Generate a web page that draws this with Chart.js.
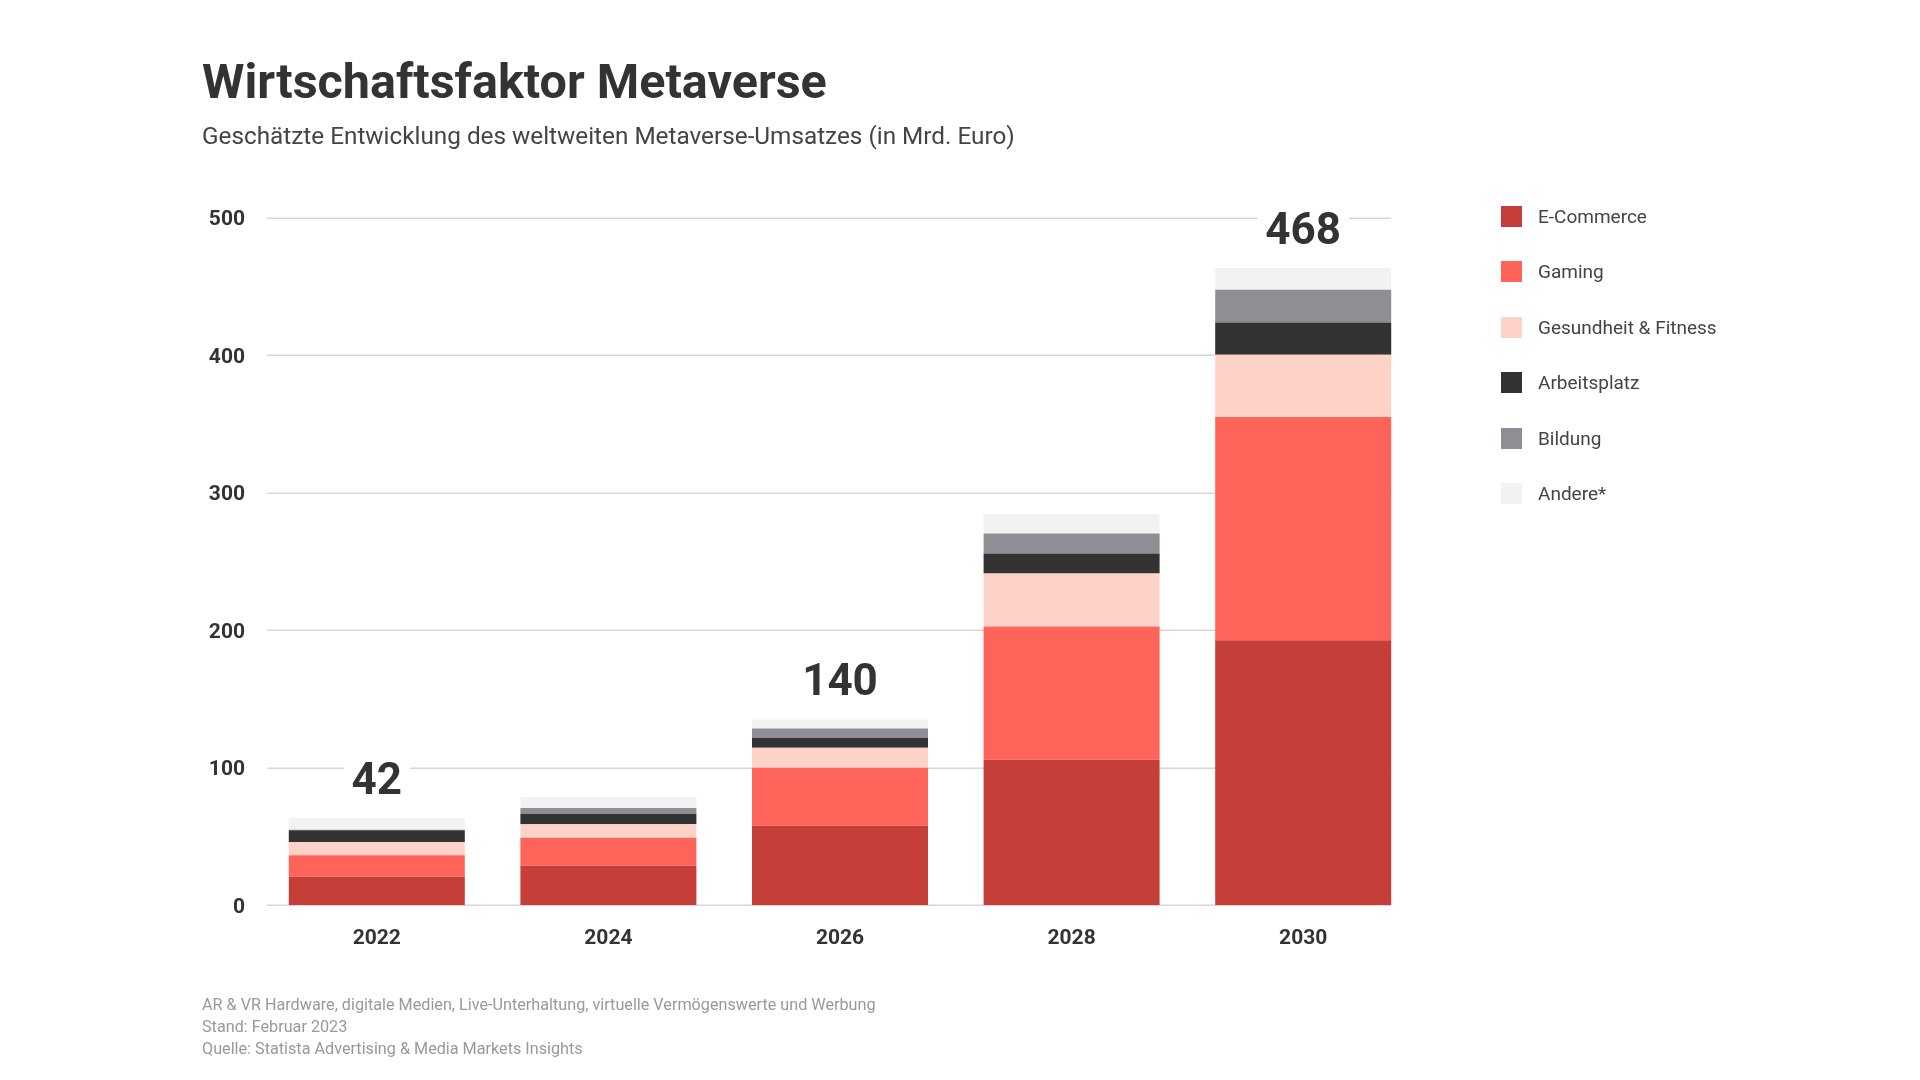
<!DOCTYPE html>
<html lang="de">
<head>
<meta charset="utf-8">
<title>Wirtschaftsfaktor Metaverse</title>
<script src="https://cdn.jsdelivr.net/npm/chart.js@4/dist/chart.umd.min.js"></script>
<style>
  html, body { margin: 0; padding: 0; background: #fff; }
  body { width: 1920px; height: 1080px; position: relative; overflow: hidden; font-family: Roboto, "Noto Sans", sans-serif; }
  #chart-wrap { position: absolute; left: 0; top: 0; width: 1920px; height: 1080px; }
  .title { position: absolute; left: 202px; top: 52px; font-size: 48.5px; font-weight: 700; color: #333; line-height: 60px; white-space: nowrap; }
  .subtitle { position: absolute; left: 202px; top: 122px; font-size: 24.3px; color: #444; line-height: 28px; white-space: nowrap; }
  .legend { position: absolute; left: 1501px; top: 206px; }
  .legend-item { height: 55.4px; display: flex; align-items: flex-start; }
  .legend-item .box { width: 21px; height: 21px; }
  .legend-item span { margin-left: 16px; font-size: 19px; color: #444; line-height: 21px; }
  .notes { position: absolute; left: 202px; top: 994px; font-size: 16.2px; color: #999; line-height: 22px; }
</style>
</head>
<body>
<div id="chart-wrap"><canvas id="chart"></canvas></div>
<div class="title">Wirtschaftsfaktor Metaverse</div>
<div class="subtitle">Geschätzte Entwicklung des weltweiten Metaverse-Umsatzes (in Mrd. Euro)</div>
<div class="legend" id="legend"></div>
<div class="notes">
  AR &amp; VR Hardware, digitale Medien, Live-Unterhaltung, virtuelle Vermögenswerte und Werbung<br>
  Stand: Februar 2023<br>
  Quelle: Statista Advertising &amp; Media Markets Insights
</div>

<script>
// Jahre
const years = ['2022', '2024', '2026', '2028', '2030'];

// Umsatz je Segment (Mrd. Euro)
const eCommerce    = [20.5, 28.5, 57.7, 105.6, 192.6];
const gaming       = [15.7, 20.5, 42.1, 97.0, 162.3];
const gesundheit   = [9.7, 9.7, 14.5, 38.5, 45.3];
const arbeitsplatz = [8.4, 7.7, 7.2, 14.5, 23.5];
const bildung      = [0.5, 4.1, 6.8, 14.5, 23.7];
const andere       = [8.5, 7.8, 6.7, 14.3, 15.8];

// Summen, die über den Balken stehen
const totalLabels = ['42', '', '140', '', '468'];

const yTicks = [0, 100, 200, 300, 400, 500];

const segments = [
    { label: 'E-Commerce', data: eCommerce, color: '#c53f38' },
    { label: 'Gaming', data: gaming, color: '#ff645a' },
    { label: 'Gesundheit & Fitness', data: gesundheit, color: '#ffd2c8' },
    { label: 'Arbeitsplatz', data: arbeitsplatz, color: '#333333' },
    { label: 'Bildung', data: bildung, color: '#8e8f94' },
    { label: 'Andere*', data: andere, color: '#f2f2f2' }
];

// Legende als HTML
const legendEl = document.getElementById('legend');
segments.forEach(s => {
    const item = document.createElement('div');
    item.className = 'legend-item';
    item.innerHTML = `<div class="box" style="background:${s.color}"></div><span></span>`;
    item.querySelector('span').textContent = s.label;
    legendEl.appendChild(item);
});

// Gitterlinien nur bis zum letzten Balken
const gridPlugin = {
    id: 'gridLines',
    beforeDatasetsDraw(chart) {
        const { ctx, chartArea, scales } = chart;
        const lastMeta = chart.getDatasetMeta(0);
        const lastBar = lastMeta.data[lastMeta.data.length - 1];
        const right = lastBar.x + lastBar.width / 2;
        ctx.save();
        ctx.strokeStyle = '#d6d6d6';
        ctx.lineWidth = 1.5;
        yTicks.forEach(v => {
            const y = Math.round(scales.y.getPixelForValue(v)) + 0.25;
            ctx.beginPath();
            ctx.moveTo(chartArea.left + 6, y);
            ctx.lineTo(right, y);
            ctx.stroke();
        });
        ctx.restore();
    }
};

// Summenbeschriftung mit weißem Hintergrund
const totalsPlugin = {
    id: 'totals',
    afterDatasetsDraw(chart) {
        const { ctx } = chart;
        const topMeta = chart.getDatasetMeta(segments.length - 1);
        ctx.save();
        ctx.font = 'bold 44px Roboto';
        ctx.textAlign = 'center';
        ctx.textBaseline = 'middle';
        totalLabels.forEach((t, i) => {
            if (!t) return;
            const bar = topMeta.data[i];
            const y = bar.y - 36;
            const w = ctx.measureText(t).width + 16;
            ctx.fillStyle = '#fff';
            ctx.fillRect(bar.x - w / 2, y - 22, w, 44);
            ctx.fillStyle = '#333';
            ctx.fillText(t, bar.x, y + 1);
        });
        ctx.restore();
    }
};

const ctx = document.getElementById('chart').getContext('2d');
new Chart(ctx, {
    type: 'bar',
    data: {
        labels: years,
        datasets: segments.map(s => ({
            label: s.label,
            data: s.data,
            backgroundColor: s.color,
            borderWidth: 0,
            categoryPercentage: 1,
            barPercentage: 0.76
        }))
    },
    options: {
        responsive: true,
        maintainAspectRatio: false,
        animation: false,
        layout: { padding: { left: 0, right: 501, top: 217.5, bottom: 115 } },
        plugins: {
            legend: { display: false },
            tooltip: { enabled: false }
        },
        scales: {
            x: {
                stacked: true,
                grid: { display: false, drawTicks: false },
                border: { display: false },
                ticks: {
                    color: '#333',
                    font: { family: 'Roboto', size: 21, weight: 'bold' },
                    padding: 21
                },
                afterFit(scale) { scale.height = 60; }
            },
            y: {
                stacked: true,
                min: 0,
                max: 500,
                grid: { display: false, drawTicks: false },
                border: { display: false },
                ticks: {
                    stepSize: 100,
                    color: '#333',
                    font: { family: 'Roboto', size: 21, weight: 'bold' },
                    padding: 16,
                    labelOffset: 2.5
                },
                afterFit(scale) { scale.width = 261; }
            }
        }
    },
    plugins: [gridPlugin, totalsPlugin]
});
</script>
</body>
</html>
